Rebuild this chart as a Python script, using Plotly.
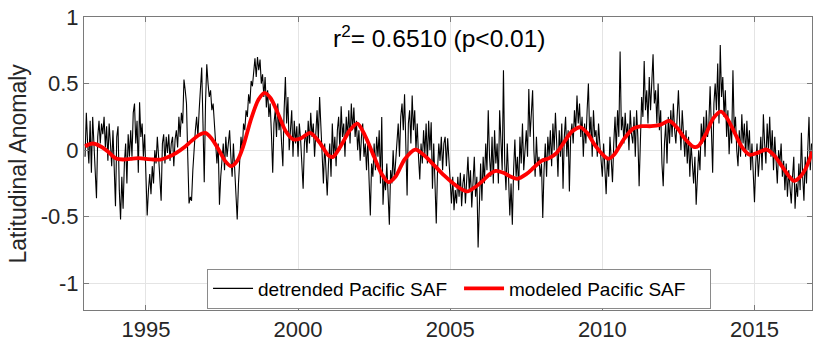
import plotly.graph_objects as go

# ---------------- data ----------------
START_YEAR = 1993.0
STEP = 1.0 / 24.0  # twice-monthly samples

saf_1993 = [-0.05, 0.28, 0.05, -0.10, 0.22, -0.17, 0.25, 0.00, -0.23, -0.36, 0.10, 0.22,
            0.05, 0.20, 0.12, 0.25, 0.02, 0.18, -0.08, 0.20, 0.05, -0.12, 0.15, -0.25]
saf_1994 = [-0.42, 0.10, 0.18, -0.30, -0.52, -0.20, -0.44, -0.10, 0.05, -0.25, 0.12, -0.05,
            0.15, -0.05, 0.28, 0.35, 0.05, 0.22, -0.17, 0.36, 0.10, 0.20, -0.05, 0.12]
saf_1995 = [-0.20, -0.49, -0.30, -0.18, -0.33, -0.12, -0.25, 0.00, -0.10, 0.10, -0.05, -0.20,
            -0.38, 0.05, 0.12, -0.10, 0.10, -0.02, 0.12, -0.08, 0.05, 0.10, -0.12, 0.08]
saf_1996 = [0.15, 0.02, 0.25, 0.10, 0.28, 0.20, 0.53, 0.45, 0.35, -0.05, -0.40, -0.35,
            -0.38, -0.15, 0.05, 0.15, 0.25, 0.10, 0.30, 0.45, 0.62, 0.20, -0.24, 0.35]
saf_1997 = [0.645, 0.50, 0.40, 0.45, 0.30, 0.35, 0.20, 0.12, -0.10, 0.05, -0.41, -0.20,
            -0.10, 0.05, -0.15, 0.10, -0.05, 0.08, 0.15, -0.05, -0.20, 0.05, -0.15, -0.35]
saf_1998 = [-0.52, -0.25, -0.05, 0.10, 0.00, 0.20, 0.15, 0.30, 0.25, 0.42, 0.35, 0.52,
            0.48, 0.62, 0.69, 0.55, 0.70, 0.60, 0.68, 0.50, 0.57, 0.40, 0.55, 0.32]
saf_1999 = [0.45, 0.25, 0.35, 0.12, -0.17, 0.20, 0.30, 0.10, 0.35, 0.15, 0.25, 0.05,
            -0.12, 0.30, 0.55, 0.20, 0.40, 0.00, 0.15, 0.30, -0.05, 0.22, 0.05, 0.18]
saf_2000 = [-0.05, 0.20, 0.08, -0.15, -0.29, 0.05, 0.15, -0.02, 0.22, 0.05, 0.28, 0.10,
            0.20, -0.05, 0.15, 0.30, 0.08, 0.40, 0.18, -0.10, -0.25, 0.05, -0.18, -0.34]
saf_2001 = [-0.10, 0.05, -0.20, 0.20, -0.05, 0.10, -0.12, 0.15, 0.25, 0.00, 0.33, 0.10,
            0.20, -0.05, 0.25, 0.10, 0.30, 0.05, 0.35, 0.15, 0.32, 0.10, 0.22, 0.00]
saf_2002 = [0.15, -0.08, 0.10, 0.20, -0.05, 0.05, -0.15, 0.08, -0.22, -0.49, -0.10, -0.20,
            0.05, -0.15, 0.10, -0.05, 0.15, -0.25, 0.25, -0.41, -0.20, -0.30, -0.10, -0.28]
saf_2003 = [-0.56, -0.15, -0.25, 0.00, -0.22, -0.08, 0.05, 0.20, -0.05, 0.25, 0.35, 0.15,
            0.42, 0.10, -0.34, 0.20, 0.30, 0.05, 0.41, 0.15, 0.30, 0.00, 0.20, -0.05]
saf_2004 = [-0.22, 0.05, -0.10, 0.15, -0.03, 0.20, -0.10, 0.22, 0.00, 0.21, -0.29, 0.05,
            -0.20, -0.55, -0.15, 0.05, -0.08, 0.10, -0.15, 0.05, 0.10, -0.12, 0.09, -0.05]
saf_2005 = [-0.25, -0.40, -0.20, -0.45, -0.30, -0.40, -0.20, -0.35, -0.17, -0.42, -0.25, -0.18,
            -0.40, -0.20, -0.05, -0.30, -0.15, -0.43, -0.20, -0.05, -0.35, -0.20, -0.73, -0.30]
saf_2006 = [-0.10, -0.38, -0.05, -0.25, 0.05, -0.15, 0.30, -0.05, -0.20, 0.10, -0.25, 0.15,
            -0.10, 0.05, -0.25, 0.30, 0.00, -0.15, 0.60, -0.10, -0.30, 0.05, -0.20, -0.49]
saf_2007 = [-0.25, -0.56, -0.15, 0.08, -0.20, -0.05, -0.30, 0.10, -0.10, 0.20, -0.15, 0.05,
            0.15, -0.05, 0.46, 0.10, 0.25, 0.45, 0.00, -0.20, 0.10, -0.12, -0.05, -0.20]
saf_2008 = [-0.10, -0.51, -0.15, 0.05, -0.20, 0.10, -0.05, 0.15, -0.12, 0.20, 0.00, 0.28,
            0.05, -0.20, 0.15, -0.05, 0.20, -0.29, 0.10, 0.25, -0.05, 0.15, -0.31, 0.10]
saf_2009 = [0.20, 0.05, 0.30, 0.15, 0.41, 0.20, 0.35, 0.10, 0.25, -0.05, 0.20, 0.05,
            0.30, 0.50, 0.10, 0.25, -0.05, 0.30, 0.10, 0.15, -0.05, 0.20, 0.05, -0.10]
saf_2010 = [-0.20, 0.05, -0.15, -0.33, -0.05, -0.20, 0.10, -0.05, -0.24, 0.05, 0.25, 0.00,
            0.30, 0.10, 0.74, 0.15, 0.25, 0.05, 0.28, 0.10, 0.20, 0.00, 0.30, 0.12]
saf_2011 = [0.05, 0.25, -0.05, 0.30, 0.10, -0.27, 0.20, 0.40, 0.25, 0.67, 0.30, 0.45,
            0.20, 0.55, 0.30, 0.50, 0.72, 0.35, 0.45, 0.20, 0.50, 0.15, 0.30, -0.10]
saf_2012 = [-0.27, 0.05, 0.20, -0.10, 0.25, 0.05, 0.30, 0.10, 0.35, 0.15, 0.05, 0.25,
            0.45, 0.20, 0.00, 0.30, 0.10, -0.05, 0.15, -0.10, 0.10, -0.20, 0.05, -0.15]
saf_2013 = [-0.25, -0.05, -0.41, -0.20, 0.00, -0.15, 0.20, 0.05, 0.25, -0.05, 0.30, 0.10,
            0.20, 0.48, 0.15, -0.17, 0.35, 0.50, 0.30, 0.65, 0.20, 0.79, 0.40, 0.55]
saf_2014 = [0.25, 0.45, 0.10, 0.30, -0.03, 0.20, 0.05, 0.60, 0.15, 0.25, 0.00, -0.12,
            0.15, -0.05, 0.27, 0.05, 0.20, -0.05, 0.22, 0.00, 0.15, -0.15, 0.05, -0.20]
saf_2015 = [-0.39, -0.10, 0.05, -0.20, -0.05, 0.10, -0.15, 0.27, 0.05, -0.10, 0.20, 0.00,
            0.25, -0.05, 0.15, -0.15, 0.10, -0.05, -0.25, 0.00, -0.10, 0.05, -0.20, -0.08]
saf_2016 = [-0.30, -0.10, -0.35, -0.15, -0.25, -0.40, -0.20, -0.05, -0.44, -0.25, -0.35, -0.10,
            -0.30, 0.13, -0.20, -0.38, -0.05, -0.25, 0.00, 0.25, -0.15, 0.05]

model_years = [1993.0, 1993.25, 1993.5, 1993.75, 1994.0, 1994.25, 1994.5, 1994.75, 1995.0,
               1995.25, 1995.5, 1995.75, 1996.0, 1996.25, 1996.5, 1996.75, 1996.95, 1997.15,
               1997.4, 1997.6, 1997.8, 1998.0, 1998.2, 1998.45, 1998.7, 1998.9, 1999.1,
               1999.35, 1999.6, 1999.85, 2000.1, 2000.4, 2000.7, 2001.0, 2001.15, 2001.45,
               2001.7, 2001.95, 2002.2, 2002.5, 2002.75, 2002.97, 2003.2, 2003.5, 2003.85,
               2004.15, 2004.5, 2004.8, 2005.1, 2005.35, 2005.57, 2005.8, 2006.07, 2006.3,
               2006.5, 2006.75, 2007.0, 2007.2, 2007.5, 2007.75, 2008.0, 2008.25, 2008.5,
               2008.8, 2009.0, 2009.28, 2009.5, 2009.75, 2010.0, 2010.2, 2010.4, 2010.7,
               2011.0, 2011.3, 2011.6, 2011.9, 2012.2, 2012.45, 2012.7, 2013.0, 2013.15,
               2013.4, 2013.65, 2013.9, 2014.1, 2014.35, 2014.6, 2014.85, 2015.1, 2015.4,
               2015.65, 2015.9, 2016.15, 2016.3, 2016.5, 2016.7, 2016.9]
model_vals = [0.03, 0.05, 0.03, -0.01, -0.06, -0.07, -0.065, -0.06, -0.065,
              -0.07, -0.07, -0.05, -0.02, 0.02, 0.07, 0.115, 0.13, 0.09,
              0.0, -0.08, -0.12, -0.08, 0.03, 0.23, 0.38, 0.43, 0.39,
              0.27, 0.14, 0.08, 0.09, 0.13, 0.06, -0.04, -0.05, 0.05,
              0.15, 0.20, 0.11, -0.05, -0.18, -0.24, -0.20, -0.07, 0.005,
              -0.04, -0.12, -0.19, -0.25, -0.29, -0.31, -0.28, -0.23, -0.18,
              -0.155, -0.17, -0.20, -0.215, -0.18, -0.13, -0.08, -0.06, -0.02,
              0.08, 0.14, 0.172, 0.13, 0.04, -0.03, -0.064, -0.03, 0.08,
              0.16, 0.18, 0.18, 0.19, 0.22, 0.17, 0.09, 0.025, 0.03,
              0.12, 0.24, 0.29, 0.24, 0.13, 0.02, -0.035, -0.02, 0.005,
              -0.04, -0.12, -0.20, -0.23, -0.20, -0.13, -0.01]

x_ticks = [1995, 2000, 2005, 2010, 2015]
x_tick_labels = ["1995", "2000", "2005", "2010", "2015"]
y_ticks = [-1, -0.5, 0, 0.5, 1]
y_tick_labels = ["-1", "-0.5", "0", "0.5", "1"]
stat_text = "r<sup>2</sup>= 0.6510 (p&lt;0.01)"

detrended = (saf_1993 + saf_1994 + saf_1995 + saf_1996 + saf_1997 + saf_1998 + saf_1999 +
             saf_2000 + saf_2001 + saf_2002 + saf_2003 + saf_2004 + saf_2005 + saf_2006 +
             saf_2007 + saf_2008 + saf_2009 + saf_2010 + saf_2011 + saf_2012 + saf_2013 +
             saf_2014 + saf_2015 + saf_2016)
years = [START_YEAR + i * STEP for i in range(len(detrended))]

FONT = "Liberation Sans, Arial, Helvetica, sans-serif"
TXT = "#262626"

fig = go.Figure()
fig.add_trace(go.Scatter(x=years, y=detrended, mode="lines",
                         line=dict(color="black", width=1.1),
                         name="detrended Pacific SAF"))
fig.add_trace(go.Scatter(x=model_years, y=model_vals, mode="lines",
                         line=dict(color="#ff0000", width=3.8, shape="spline", smoothing=0.8),
                         name="modeled Pacific SAF"))

axis_common = dict(showline=True, linecolor="#7a7a7a", linewidth=1, mirror="ticks",
                   ticks="inside", ticklen=5, tickcolor="#7a7a7a",
                   showgrid=True, gridcolor="#e4e4e4", gridwidth=1, zeroline=False,
                   ticklabeloverflow="allow",
                   tickfont=dict(family=FONT, size=22, color=TXT))

fig.update_layout(
    width=818, height=348, autosize=False,
    margin=dict(l=84, r=5, t=12, b=38, pad=0),
    paper_bgcolor="white", plot_bgcolor="white",
    font=dict(family=FONT, color=TXT),
    xaxis=dict(range=[1992.965, 2016.89], tickmode="array", tickvals=x_ticks,
               ticktext=x_tick_labels, **axis_common),
    yaxis=dict(range=[-1.2, 1.0], tickmode="array", tickvals=y_ticks,
               ticktext=y_tick_labels, **axis_common),
    showlegend=True,
    legend=dict(orientation="h", x=0.169, y=0.005, xanchor="left", yanchor="bottom",
                bgcolor="white", bordercolor="#8a8a8a", borderwidth=1,
                font=dict(family=FONT, size=19, color="black"),
                itemwidth=40, entrywidth=196, entrywidthmode="pixels"),
    annotations=[
        dict(text=stat_text, xref="paper", yref="paper", x=0.488, y=0.935,
             xanchor="center", yanchor="middle", showarrow=False,
             font=dict(family=FONT, size=24.5, color="black")),
        dict(text="Latitudinal Anomaly", xref="paper", yref="paper",
             x=-67 / 729, y=0.5, xanchor="center", yanchor="middle", textangle=-90,
             showarrow=False, font=dict(family=FONT, size=23, color=TXT)),
    ],
)

fig.write_html("out.html")
